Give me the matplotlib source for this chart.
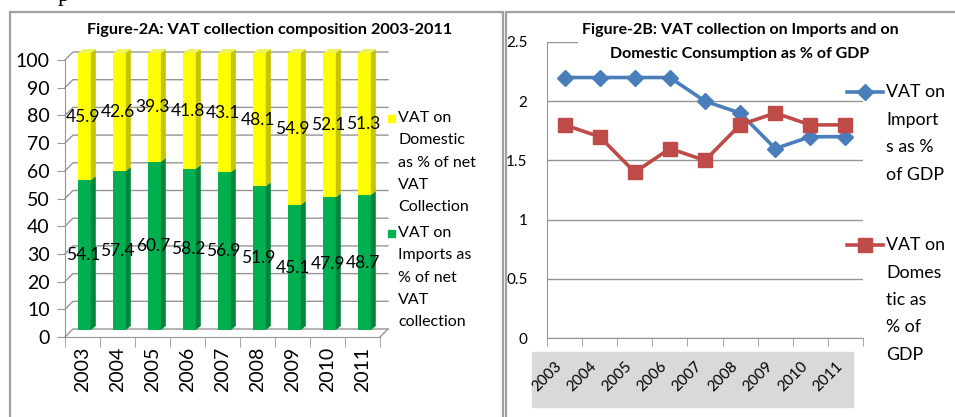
import matplotlib
matplotlib.use('Agg')
import matplotlib.pyplot as plt
from matplotlib.patches import Rectangle, Polygon
from matplotlib.lines import Line2D
import matplotlib.transforms as mtransforms
import numpy as np

# ---------------- data ----------------
years = ['2003', '2004', '2005', '2006', '2007', '2008', '2009', '2010', '2011']
imports_share = [54.1, 57.4, 60.7, 58.2, 56.9, 51.9, 45.1, 47.9, 48.7]
domestic_share = [45.9, 42.6, 39.3, 41.8, 43.1, 48.1, 54.9, 52.1, 51.3]
imports_gdp = [2.2, 2.2, 2.2, 2.2, 2.0, 1.9, 1.6, 1.7, 1.7]
domestic_gdp = [1.8, 1.7, 1.4, 1.6, 1.5, 1.8, 1.9, 1.8, 1.8]
left_yticks = list(range(0, 101, 10))
right_yticks = [0, 0.5, 1, 1.5, 2, 2.5]
right_yticklabels = ['0', '0.5', '1', '1.5', '2', '2.5']
title_a = 'Figure-2A: VAT collection composition 2003-2011'
title_b = 'Figure-2B: VAT collection on Imports and on\nDomestic Consumption as % of GDP'
legend_a_dom = ['VAT on', 'Domestic', 'as % of net', 'VAT', 'Collection']
legend_a_imp = ['VAT on', 'Imports as', '% of net', 'VAT', 'collection']
legend_b_imp = ['VAT on', 'Import', 's as %', 'of GDP']
legend_b_dom = ['VAT on', 'Domes', 'tic as', '% of', 'GDP']

plt.rcParams['font.family'] = ['Lato', 'DejaVu Sans']

W, H = 955, 417
fig = plt.figure(figsize=(W / 100, H / 100), dpi=100)


def fx(x):
    return x / W


def fy(y):
    return 1 - y / H


GRID = '#959595'

# ---------------- panel frames ----------------
fig.patches.append(Rectangle((fx(10), fy(440)), (503 - 10) / W, (440 - 12) / H,
                             transform=fig.transFigure, fill=False,
                             edgecolor='#a0a0a0', lw=1.6, zorder=1))
fig.patches.append(Rectangle((fx(506), fy(440)), (990 - 506) / W, (440 - 12) / H,
                             transform=fig.transFigure, fill=False,
                             edgecolor='#a0a0a0', lw=1.6, zorder=1))
# text cropped at the top edge (as in the source image)
fig.text(fx(58), fy(0.5), 'p', fontsize=17, family='Liberation Serif', va='baseline')

# ---------------- left chart (3D-look stacked bars) ----------------
axL = fig.add_axes([fx(65), fy(337), 315 / W, 277 / H])
axL.set_xlim(-0.5, 8.5)
axL.set_ylim(0, 100)
for s in ['top', 'right']:
    axL.spines[s].set_visible(False)
axL.spines['left'].set_color(GRID)
axL.spines['bottom'].set_color(GRID)
axL.set_facecolor('none')
axL.set_yticks(left_yticks)
axL.set_yticklabels([str(v) for v in left_yticks], fontsize=14)
axL.tick_params(axis='y', length=6, color=GRID, pad=5)
x = np.arange(len(years))
axL.set_xticks(x)
axL.set_xticklabels(years, rotation=90, fontsize=14)
axL.tick_params(axis='x', length=0, pad=7)
axL.set_xticks(np.arange(-0.5, 9, 1), minor=True)
axL.tick_params(axis='x', which='minor', length=7, color=GRID)

# back wall & side wall
ddx, ddy = 8 / 35, 8 / 2.77
for v in left_yticks:
    axL.plot([-0.5, -0.5 + ddx, 8.5 + ddx], [v, v + ddy, v + ddy],
             color=GRID, lw=1, clip_on=False, zorder=1)
axL.plot([8.5, 8.5 + ddx], [0, ddy], color=GRID, lw=1, clip_on=False, zorder=1)

off = mtransforms.ScaledTranslation(2 / 100, 7 / 100, fig.dpi_scale_trans)
tr = axL.transData + off
bw = 0.36
sd, sh = 5 / 35, 4 / 2.77
GREEN, GREEN_S = '#00b050', '#00853c'
YEL, YEL_S, YEL_T = '#ffff00', '#c4c400', '#f2f25a'
bars_i = axL.bar(x, imports_share, bw, color=GREEN, transform=tr, zorder=3, clip_on=False)
bars_d = axL.bar(x, domestic_share, bw, bottom=imports_share, color=YEL,
                 transform=tr, zorder=3, clip_on=False)
for xi, vi, vd in zip(x, imports_share, domestic_share):
    xr = xi + bw / 2
    xl = xi - bw / 2
    top = vi + vd
    axL.add_patch(Polygon([(xr, 0), (xr + sd, sh), (xr + sd, vi + sh), (xr, vi)],
                          closed=True, fc=GREEN_S, ec='none', transform=tr, zorder=3, clip_on=False))
    axL.add_patch(Polygon([(xr, vi), (xr + sd, vi + sh), (xr + sd, top + sh), (xr, top)],
                          closed=True, fc=YEL_S, ec='none', transform=tr, zorder=3, clip_on=False))
    axL.add_patch(Polygon([(xl, top), (xl + sd, top + sh), (xr + sd, top + sh), (xr, top)],
                          closed=True, fc=YEL_T, ec='none', transform=tr, zorder=3, clip_on=False))
    axL.text(xi - 0.05, vi / 2, f'{vi}', ha='center', va='center', fontsize=12.5,
             transform=tr, zorder=5)
    axL.text(xi - 0.05, vi + vd / 2, f'{vd}', ha='center', va='center', fontsize=12.5,
             transform=tr, zorder=5)

fig.text(fx(270), fy(30), title_a, ha='center', va='center', fontsize=11.7, weight='bold')

# left legend
fig.patches.append(Rectangle((fx(388), fy(122)), 7 / W, 7 / H, color=YEL,
                             transform=fig.transFigure, zorder=2))
for j, t in enumerate(legend_a_dom):
    fig.text(fx(398), fy(118 + 22.3 * j), t, va='center', fontsize=11.5)
fig.patches.append(Rectangle((fx(388), fy(237)), 7 / W, 7 / H, color=GREEN,
                             transform=fig.transFigure, zorder=2))
for j, t in enumerate(legend_a_imp):
    fig.text(fx(398), fy(233 + 22.3 * j), t, va='center', fontsize=11.5)

# ---------------- right chart (lines) ----------------
BLUE, RED = '#4a7ebb', '#be4b48'
fig.patches.append(Rectangle((fx(532), fy(407)), (853 - 532) / W, (407 - 352) / H,
                             color='#d9d9d9', transform=fig.transFigure, zorder=-1))
axR = fig.add_axes([fx(547), fy(338), (863 - 547) / W, (338 - 42) / H])
axR.set_facecolor('none')
axR.set_xlim(-0.5, 8.5)
axR.set_ylim(0, 2.5)
for s in ['top', 'right']:
    axR.spines[s].set_visible(False)
axR.spines['left'].set_color(GRID)
axR.spines['bottom'].set_color(GRID)
axR.set_yticks(right_yticks)
axR.set_yticklabels(right_yticklabels, fontsize=11)
axR.tick_params(axis='y', length=0, pad=14)
axR.yaxis.grid(True, color=GRID, lw=1)
axR.set_axisbelow(True)
axR.set_xticks(x)
axR.set_xticklabels(years, rotation=45, ha='right', va='top', fontsize=11)
axR.tick_params(axis='x', length=0, pad=15)
axR.set_xticks(np.arange(-0.5, 9, 1), minor=True)
axR.tick_params(axis='x', which='minor', length=6, color=GRID)
axR.plot(x, imports_gdp, color=BLUE, lw=2.6, marker='D', ms=8.5, zorder=3, clip_on=False)
axR.plot(x, domestic_gdp, color=RED, lw=2.6, marker='s', ms=10, zorder=4, clip_on=False)

fig.text(fx(740), fy(42), title_b, ha='center', va='center', fontsize=11.5, weight='bold',
         linespacing=1.85, multialignment='center',
         bbox=dict(fc='white', ec='none', pad=3), zorder=6)

# right legend
fig.add_artist(Line2D([fx(847), fx(883)], [fy(92), fy(92)], color=BLUE, lw=2.6,
                      transform=fig.transFigure))
fig.add_artist(Line2D([fx(865)], [fy(92)], color=BLUE, marker='D', ms=8.5,
                      transform=fig.transFigure))
for j, t in enumerate(legend_b_imp):
    fig.text(fx(886), fy(92 + 27.7 * j), t, va='center', fontsize=12.8)
fig.add_artist(Line2D([fx(847), fx(883)], [fy(245), fy(245)], color=RED, lw=2.6,
                      transform=fig.transFigure))
fig.add_artist(Line2D([fx(865)], [fy(245)], color=RED, marker='s', ms=10,
                      transform=fig.transFigure))
for j, t in enumerate(legend_b_dom):
    fig.text(fx(886), fy(245 + 27.5 * j), t, va='center', fontsize=12.8)

fig.savefig('out.png', dpi=100)
